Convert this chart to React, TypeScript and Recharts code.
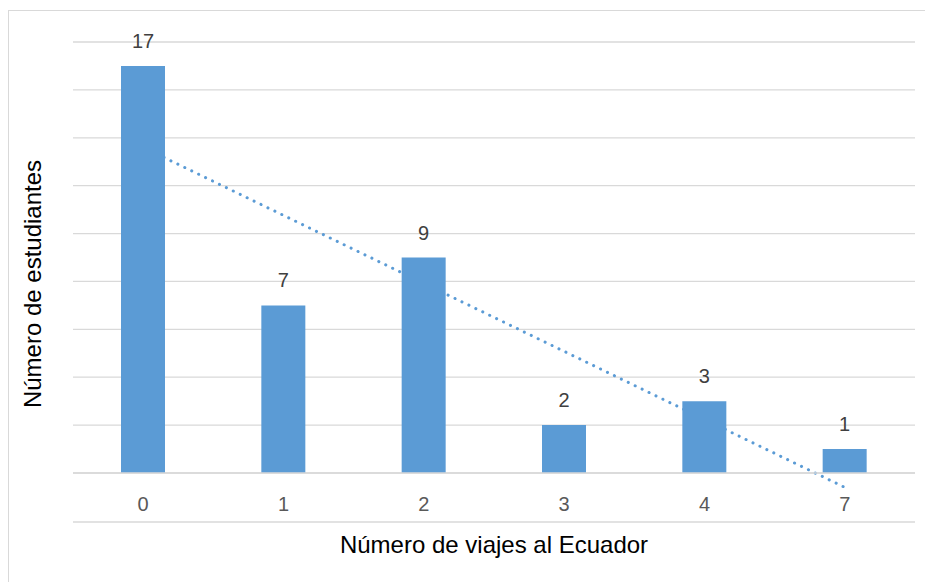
import React from "react";
import {
  ComposedChart,
  Bar,
  XAxis,
  YAxis,
  CartesianGrid,
  LabelList,
  ReferenceLine,
  Label,
} from "recharts";

// número de viajes (categorías) y número de estudiantes
const viajes = ["0", "1", "2", "3", "4", "7"];
const estudiantes = [17, 7, 9, 2, 3, 1];
const yTicks = [0, 2, 4, 6, 8, 10, 12, 14, 16, 18];
// tendencia lineal (primer y último punto)
const trendStart = 13.6;
const trendEnd = -0.6;

const data = viajes.map((v, i) => ({ viajes: v, estudiantes: estudiantes[i] }));

const FONT = "'Liberation Sans', Arial, sans-serif";
const BLUE = "#5b9bd5";

// the y axis has no tick labels, only gridlines
const NoTick = () => <g />;

export default function App() {
  return (
    <div
      style={{
        marginTop: 2,
        width: 925,
        height: 572,
        borderLeft: "1.5px solid #d9d9d9",
        borderTop: "1.5px solid #d9d9d9",
        boxSizing: "border-box",
        background: "#fff",
      }}
    >
      <ComposedChart
        width={923}
        height={570}
        data={data}
        margin={{ top: 31, right: 17, left: 0, bottom: 0 }}
        barCategoryGap={0}
      >
        <CartesianGrid
          vertical={false}
          stroke="#d9d9d9"
          strokeWidth={1.3}
        />
        <XAxis
          dataKey="viajes"
          height={49}
          axisLine={{ stroke: "#d9d9d9", strokeWidth: 1.3 }}
          tickLine={false}
          tickSize={0}
          tickMargin={24}
          tick={{ fill: "#595959", fontSize: 20, fontFamily: FONT }}
        />
        <XAxis
          xAxisId="frame"
          dataKey="viajes"
          height={59}
          axisLine={{ stroke: "#d9d9d9", strokeWidth: 1.3 }}
          tickLine={false}
          tick={false}
        >
          <Label
            content={({ viewBox }: any) => (
              <text
                x={viewBox.x + viewBox.width / 2}
                y={viewBox.y + 22}
                textAnchor="middle"
                dominantBaseline="central"
                fill="#000"
                fontSize={24}
                fontFamily={FONT}
              >
                Número de viajes al Ecuador
              </text>
            )}
          />
        </XAxis>
        <YAxis
          width={64}
          domain={[0, 18]}
          ticks={yTicks}
          interval={0}
          tick={NoTick}
          tickLine={false}
          axisLine={false}
        >
          <Label
            content={() => (
              <text
                x={23}
                y={273}
                transform="rotate(-90, 23, 273)"
                textAnchor="middle"
                dominantBaseline="central"
                fill="#000"
                fontSize={24}
                fontFamily={FONT}
              >
                Número de estudiantes
              </text>
            )}
          />
        </YAxis>
        <ReferenceLine
          segment={[
            { x: viajes[0], y: trendStart },
            { x: viajes[viajes.length - 1], y: trendEnd },
          ]}
          ifOverflow="visible"
          stroke={BLUE}
          strokeWidth={3}
          strokeDasharray="0.1 7.6"
          strokeLinecap="round"
          zIndex={250}
        />
        <Bar
          dataKey="estudiantes"
          fill={BLUE}
          barSize={44}
          isAnimationActive={false}
        >
          <LabelList
            dataKey="estudiantes"
            position="top"
            offset={18}
            fill="#404040"
            fontSize={20}
            fontFamily={FONT}
          />
        </Bar>
      </ComposedChart>
    </div>
  );
}
